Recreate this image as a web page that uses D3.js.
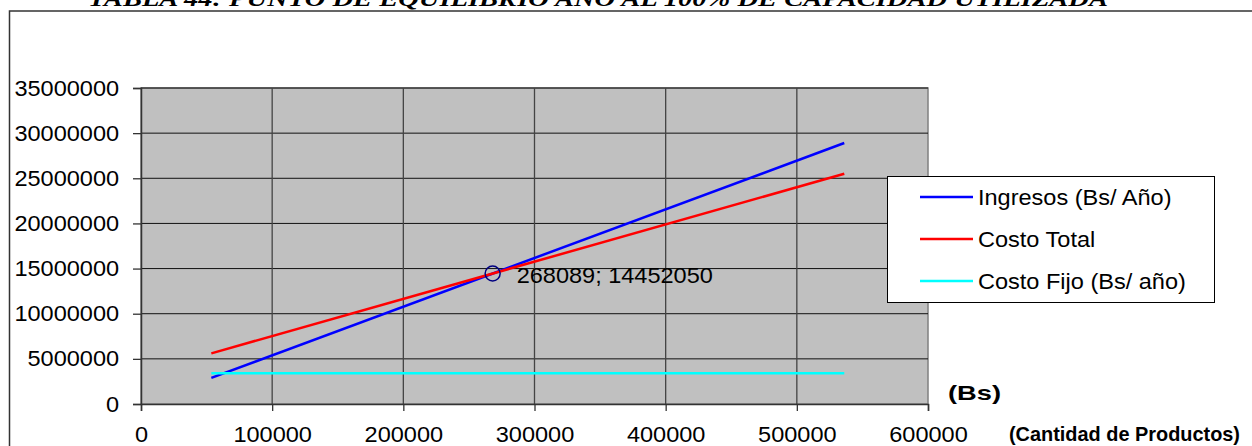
<!DOCTYPE html>
<html>
<head>
<meta charset="utf-8">
<script src="https://cdn.jsdelivr.net/npm/d3@7"></script>
<style>
  body { margin: 0; background: #fff; }
  svg { display: block; font-family: "Liberation Sans", Arial, sans-serif; }
</style>
</head>
<body>
<div id="chart"></div>
<script>
// Data
const cantidad = [53618, 536178];
const ingresos = [2890500, 28904100];
const costoTotal = [5610400, 25504100];
const costoFijo = [3400000, 3400000];
const seriesNames = ["Ingresos (Bs/ Año)", "Costo Total", "Costo Fijo (Bs/ año)"];
const seriesColors = ["#0000FF", "#FF0000", "#00FFFF"];
const equilibrio = [268089, 14452050];
const xTicks = [0, 100000, 200000, 300000, 400000, 500000, 600000];
const yTicks = [0, 5000000, 10000000, 15000000, 20000000, 25000000, 30000000, 35000000];

const W = 1252, H = 446;
const fontSize = 22;
const stretch = 1.07; // text in the original is a bit wider than Arial

const svg = d3.select("#chart")
  .append("svg")
  .attr("width", W)
  .attr("height", H);

// Title (cut off at top in the original)
svg.append("text")
  .attr("x", 88)
  .attr("y", 6)
  .attr("textLength", 1020)
  .attr("lengthAdjust", "spacingAndGlyphs")
  .style("font-family", "'Liberation Serif', 'Times New Roman', serif")
  .style("font-weight", "bold")
  .style("font-style", "italic")
  .style("font-size", "22px")
  .text("TABLA 44: PUNTO DE EQUILIBRIO AÑO AL 100% DE CAPACIDAD UTILIZADA");

// Chart area border
svg.append("rect")
  .attr("x", 9.5)
  .attr("y", 11)
  .attr("width", W + 20)
  .attr("height", H + 20)
  .attr("fill", "none")
  .attr("stroke", "#333")
  .attr("stroke-width", 1.5);

// Scales
const x = d3.scaleLinear().domain([0, 600000]).range([141, 928]);
const y = d3.scaleLinear().domain([0, 35000000]).range([404, 88]);

// Plot area
svg.append("rect")
  .attr("x", x(0))
  .attr("y", y(35000000))
  .attr("width", x(600000) - x(0))
  .attr("height", y(0) - y(35000000))
  .attr("fill", "#C0C0C0")
  .attr("stroke", "#808080")
  .attr("stroke-width", 1.5);

// Gridlines
svg.append("g")
  .selectAll("line")
  .data(yTicks.slice(1))
  .enter()
  .append("line")
  .attr("x1", x(0)).attr("x2", x(600000))
  .attr("y1", d => y(d)).attr("y2", d => y(d))
  .attr("stroke", "#111")
  .attr("stroke-width", 1);

svg.append("g")
  .selectAll("line")
  .data(xTicks.slice(1, -1))
  .enter()
  .append("line")
  .attr("x1", d => x(d)).attr("x2", d => x(d))
  .attr("y1", y(0)).attr("y2", y(35000000))
  .attr("stroke", "#444")
  .attr("stroke-width", 1.3);

// Axes
const yAxis = svg.append("g")
  .attr("transform", `translate(${x(0)},0)`)
  .call(d3.axisLeft(y).tickValues(yTicks).tickFormat(d3.format("d")).tickSize(8).tickPadding(12.5));

const xAxis = svg.append("g")
  .attr("transform", `translate(0,${y(0)})`)
  .call(d3.axisBottom(x).tickValues(xTicks).tickFormat(d3.format("d")).tickSize(7).tickPadding(15));

[yAxis, xAxis].forEach(ax => {
  ax.select(".domain").attr("stroke", "#333").attr("stroke-width", 1.5);
  ax.selectAll(".tick line").attr("stroke", "#333").attr("stroke-width", 1.3);
  ax.selectAll("text")
    .attr("fill", "#000")
    .attr("transform", `scale(${stretch},1)`)
    .style("font-size", fontSize + "px")
    .style("font-family", "'Liberation Sans', Arial, sans-serif");
});

// Lines
const seriesData = [ingresos, costoTotal, costoFijo];
const line = d3.line()
  .x(d => x(d[0]))
  .y(d => y(d[1]));

seriesData.forEach((vals, i) => {
  svg.append("path")
    .datum(cantidad.map((c, j) => [c, vals[j]]))
    .attr("fill", "none")
    .attr("stroke", seriesColors[i])
    .attr("stroke-width", 2.5)
    .attr("d", line);
});

// Break-even marker and label
svg.append("circle")
  .attr("cx", x(equilibrio[0]))
  .attr("cy", y(equilibrio[1]))
  .attr("r", 7.5)
  .attr("fill", "none")
  .attr("stroke", "#000080")
  .attr("stroke-width", 1.5);

// helper for stretched text anchored at a point
function label(px, py, txt, opts = {}) {
  const g = svg.append("g").attr("transform", `translate(${px},${py}) scale(${opts.len ? 1 : stretch},1)`);
  const t = g.append("text")
    .attr("text-anchor", opts.anchor || "start")
    .style("font-size", (opts.size || fontSize) + "px")
    .style("font-weight", opts.bold ? "bold" : "normal")
    .attr("fill", "#000")
    .text(txt);
  if (opts.len) t.attr("textLength", opts.len).attr("lengthAdjust", "spacingAndGlyphs");
  return g;
}

label(x(equilibrio[0]) + 24, y(equilibrio[1]) + 9, `${equilibrio[0]}; ${equilibrio[1]}`);

// Legend
const legend = svg.append("g").attr("transform", "translate(887,176)");
legend.append("rect")
  .attr("x", 0.5).attr("y", 0.5)
  .attr("width", 327).attr("height", 126)
  .attr("fill", "#fff")
  .attr("stroke", "#000")
  .attr("stroke-width", 1);

seriesNames.forEach((name, i) => {
  const ly = 21 + i * 42;
  legend.append("line")
    .attr("x1", 33).attr("x2", 86)
    .attr("y1", ly).attr("y2", ly)
    .attr("stroke", seriesColors[i])
    .attr("stroke-width", 2.5);
  legend.append("g")
    .attr("transform", `translate(91,${ly + 8}) scale(${stretch},1)`)
    .append("text")
    .style("font-size", fontSize + "px")
    .attr("fill", "#000")
    .text(name);
});

// Axis titles
label(948, 400, "(Bs)", { bold: true, size: 21, len: 53 });
label(1009, 441, "(Cantidad de Productos)", { bold: true, size: 21, len: 231 });
</script>
</body>
</html>
